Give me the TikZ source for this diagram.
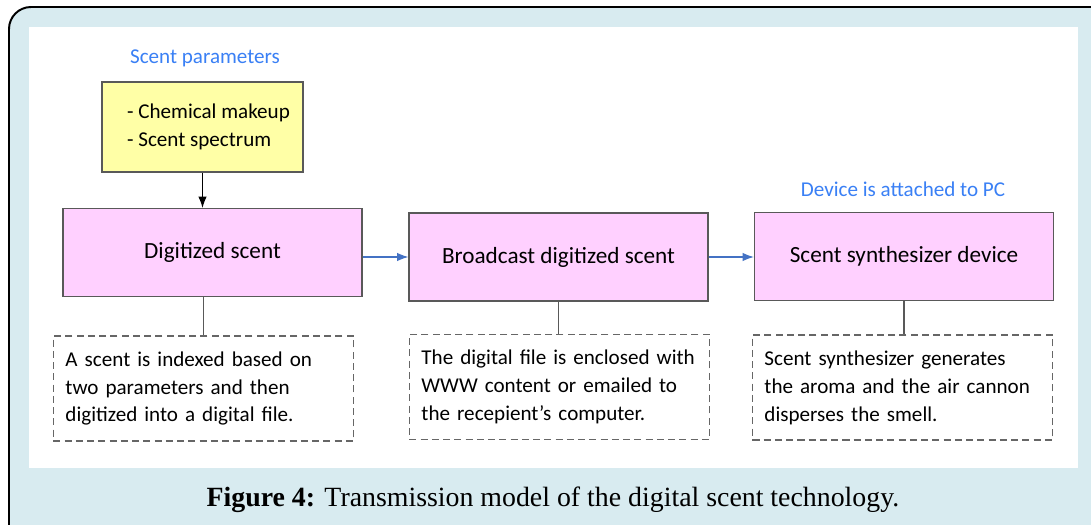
\documentclass[tikz,border=0pt]{standalone}
\usepackage{fontspec}
\setmainfont{Carlito}
\newfontfamily\capfont{Liberation Serif}
\usetikzlibrary{arrows.meta,calc,positioning}
\definecolor{framebg}{RGB}{216,235,240}
\definecolor{parfill}{RGB}{255,255,166}
\definecolor{stagefill}{RGB}{255,208,255}
\definecolor{labelblue}{RGB}{58,128,245}
\definecolor{flowblue}{RGB}{68,114,196}
\tikzset{
 stage/.style={draw=black!65,line width=0.8pt,fill=stagefill,minimum width=7.475cm,minimum height=2.2cm,font=\fontsize{16.5}{20}\selectfont},
 note/.style={draw=black!60,dash pattern=on 5pt off 3pt,line width=0.8pt,minimum width=7.5cm,minimum height=2.625cm,text width=6.9cm,inner xsep=0.3cm,align=left,font=\fontsize{15}{19.9}\selectfont},
 tag/.style={text=labelblue,font=\fontsize{15}{18}\selectfont},
 flow/.style={-{Latex[length=8pt,width=6pt]},flowblue,line width=0.8pt},
}
\begin{document}
\begin{tikzpicture}[x=0.025cm,y=-0.025cm]
\clip(0,0)rectangle(1091,525);
\draw[fill=framebg,line width=1.4pt,rounded corners=0.55cm](9,7)rectangle(1120,560);
\fill[white](29,27)rectangle(1078,468);
\node[tag](ptag)at(205,58){Scent parameters};
\node[draw=black!65,line width=0.8pt,fill=parfill,minimum width=5.025cm,minimum height=2.25cm,align=left,font=\fontsize{15}{19.9}\selectfont](par)at(202.5,127){\hspace*{0.3cm}- Chemical makeup\\\hspace*{0.3cm}- Scent spectrum};
\node[stage](dig)at(212.5,252.5){Digitized scent};
\node[stage](bro)at(558.5,257){Broadcast digitized scent};
\node[stage](syn)at(904,256.5){Scent synthesizer device};
\node[tag](dtag)at(903,189){Device is attached to PC};
\node[note](n1)at(203.5,388.5){A scent is indexed based on\\two parameters and then\\digitized into a digital file.};
\node[note](n2)at(559.5,387){The digital file is enclosed with\\WWW content or emailed to\\the recepient’s computer.};
\node[note](n3)at(902.5,387.5){Scent synthesizer generates\\the aroma and the air cannon\\disperses the smell.};
\draw[-{Latex[length=8pt,width=6pt]},line width=0.8pt](par.south)--(par.south|-dig.north);
\draw[flow](bro.west-|dig.east)--(bro.west);\draw[flow](bro.east)--(syn.west|-bro.east);
\draw[black!65,line width=0.8pt](n1.north|-dig.south)--(n1.north);\draw[black!65,line width=0.8pt](bro.south)--(bro.south|-n2.north);\draw[black!65,line width=0.8pt](syn.south)--(syn.south|-n3.north);
\node[font=\capfont\fontsize{19.8}{23}\selectfont](cap)at(553,500){\textbf{Figure 4:} Transmission model of the digital scent technology.};
\end{tikzpicture}
\end{document}
